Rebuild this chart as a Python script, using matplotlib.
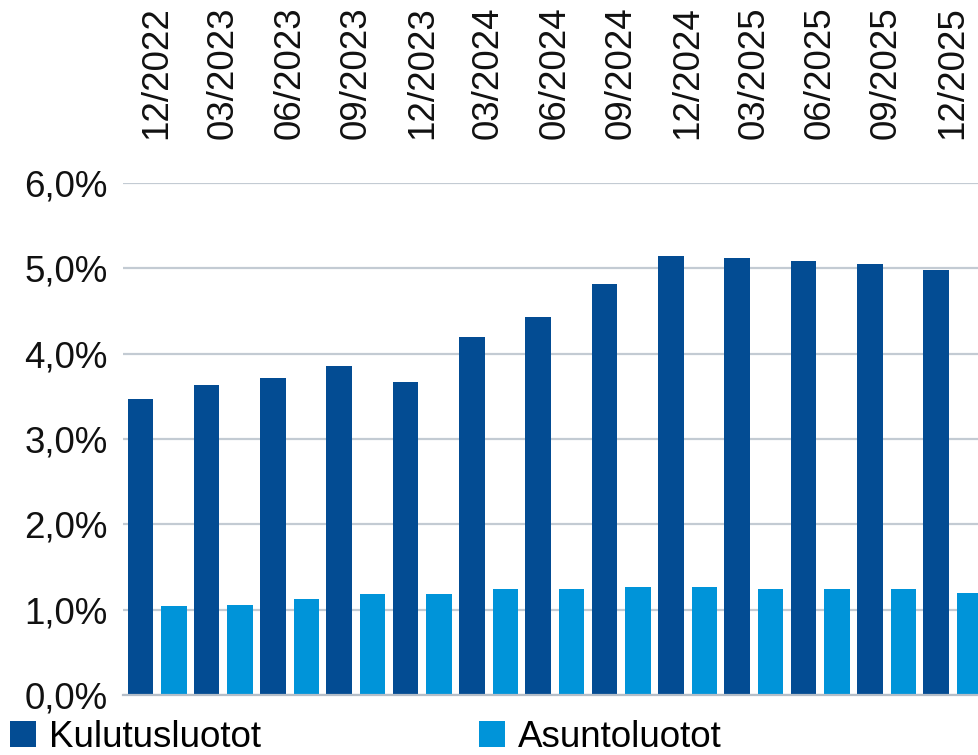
import matplotlib
matplotlib.use("Agg")
import matplotlib.pyplot as plt
import numpy as np
from matplotlib.patches import Patch
from matplotlib.ticker import FuncFormatter

plt.rcParams['font.family'] = ['Liberation Sans', 'DejaVu Sans']

categories = ["12/2022", "03/2023", "06/2023", "09/2023", "12/2023", "03/2024",
              "06/2024", "09/2024", "12/2024", "03/2025", "06/2025", "09/2025", "12/2025"]
kulutusluotot = [3.47, 3.63, 3.72, 3.86, 3.67, 4.20, 4.43, 4.82, 5.14, 5.12, 5.09, 5.05, 4.98]
asuntoluotot = [1.04, 1.06, 1.13, 1.18, 1.18, 1.24, 1.24, 1.27, 1.27, 1.24, 1.24, 1.24, 1.20]
series_names = ["Kulutusluotot", "Asuntoluotot"]
yticks = [0, 1, 2, 3, 4, 5, 6]

dark = "#034c93"
light = "#0094d9"
grid_c = "#c3cbd3"
fs = 26.5

W, H = 979, 755
fig = plt.figure(figsize=(W / 100, H / 100), dpi=100)

left_px, right_px = 123, 986
bottom_px, top_px = 695, 183
ax = fig.add_axes([left_px / W, (H - bottom_px) / H,
                   (right_px - left_px) / W, (bottom_px - top_px) / H])

x = np.arange(len(categories))
off = 0.2525
bw = 0.385
ax.bar(x - off, kulutusluotot, width=bw, color=dark, zorder=3)
ax.bar(x + off, asuntoluotot, width=bw, color=light, zorder=3)

ax.set_xlim(-0.513, len(categories) - 0.5)
ax.set_ylim(0, 6)
ax.set_yticks(yticks)
ax.yaxis.set_major_formatter(FuncFormatter(lambda v, p: f"{v:.1f}%".replace(".", ",")))
ax.yaxis.grid(True, color=grid_c, linewidth=1.6, zorder=0)
ax.set_axisbelow(True)

ax.xaxis.tick_top()
ax.set_xticks(x)
ax.set_xticklabels(categories, rotation=90, va="bottom", ha="center")
ax.tick_params(axis="x", length=0, pad=32, labelsize=fs, colors="#111111")
ax.tick_params(axis="y", length=0, pad=11, labelsize=fs, colors="#111111")

for s in ["top", "right", "left"]:
    ax.spines[s].set_visible(False)
ax.spines["bottom"].set_color("#b5bec8")
ax.spines["bottom"].set_linewidth(1.6)
ax.spines["bottom"].set_zorder(4)

handles = [Patch(facecolor=dark, label=series_names[0]),
           Patch(facecolor=light, label=series_names[1])]
fig.legend(handles=handles, loc="lower left", bbox_to_anchor=(10 / W, 0.0),
           ncol=2, frameon=False, fontsize=fs, handlelength=0.72, handleheight=0.68,
           handletextpad=0.35, columnspacing=5.9, borderpad=0, borderaxespad=0)

fig.savefig("out.png", dpi=100)
